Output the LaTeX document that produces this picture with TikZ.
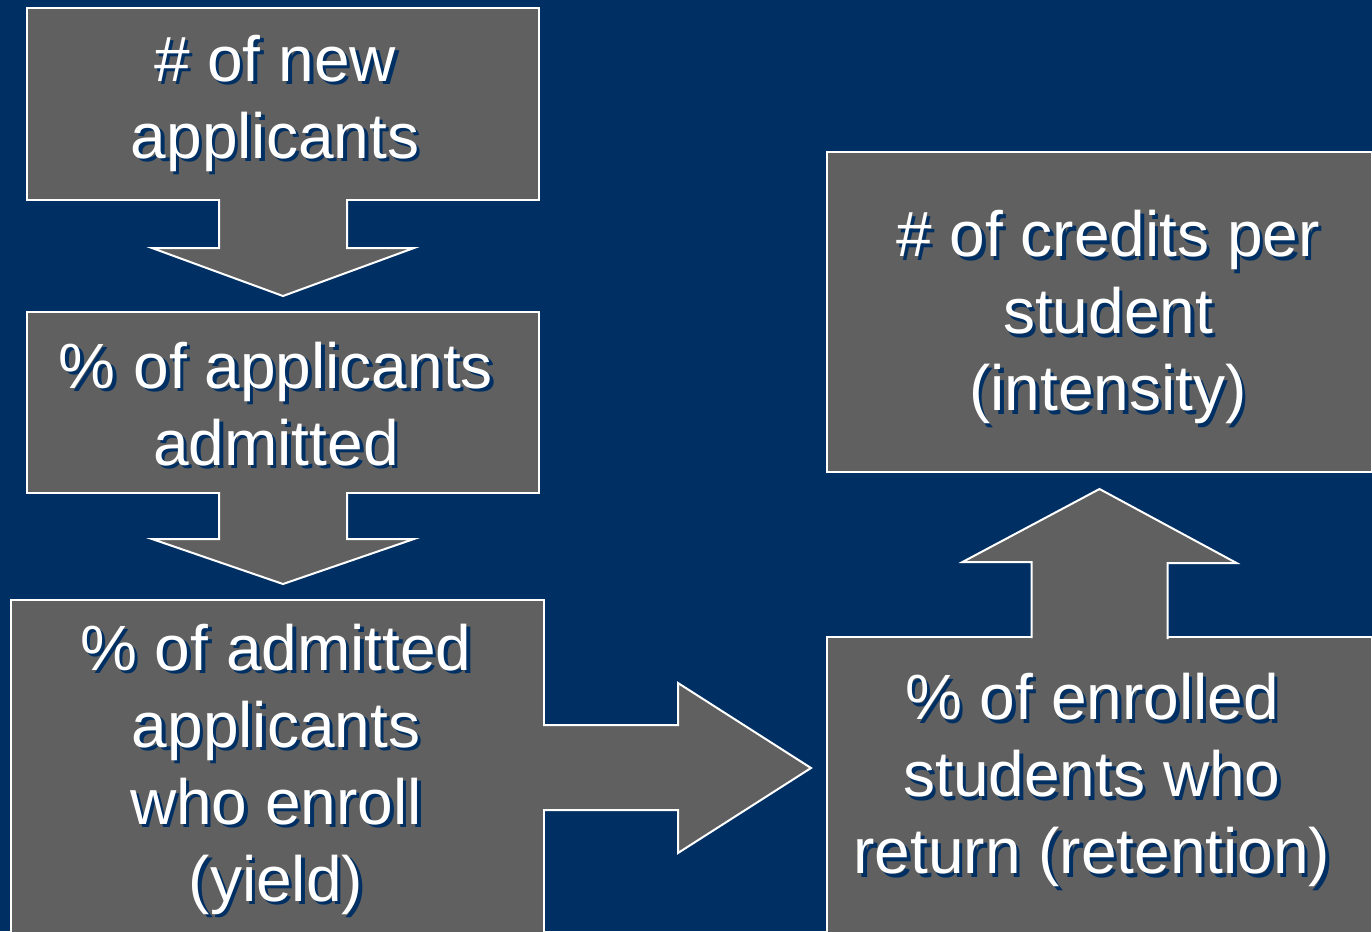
\documentclass[tikz,border=0pt]{standalone}
\usepackage{fontspec}
\setmainfont{Liberation Sans}
\usetikzlibrary{calc}
\definecolor{navy}{RGB}{0,48,99}
\definecolor{boxgray}{RGB}{96,96,96}
\tikzset{
  box/.style={draw=white, line width=2pt, fill=boxgray, inner sep=0pt, outer sep=0pt, anchor=north west},
  blockarrow/.style={draw=white, line width=2pt, fill=boxgray, line join=miter},
  txt/.style={font=\fontsize{64}{77}\selectfont, align=center, inner sep=0pt},
}
\newcommand{\stxt}[3]{%
  \node[txt, text=navy] (#1s) at ($(#2)+(3.5,3.5)$) {#3};
  \node[txt, text=white] (#1) at (#2) {#3};}
\begin{document}
\begin{tikzpicture}[x=1pt,y=-1pt]
\useasboundingbox (0,0) rectangle (1372,931);
\clip (0,0) rectangle (1372,931);
\fill[navy] (0,0) rectangle (1372,931);
% boxes
\node[box, minimum width=512pt, minimum height=192pt] (b1) at (27,8) {};
\node[box, minimum width=512pt, minimum height=181pt] (b2) at (27,312) {};
\node[box, minimum width=533pt, minimum height=340pt] (b3) at (11,600) {};
\node[box, minimum width=545pt, minimum height=320pt] (b5) at (827,152) {};
\node[box, minimum width=545pt, minimum height=310pt] (b4) at (827,637) {};
% block arrows
\draw[blockarrow] ($(b1.south)+(-64,-1)$) -- ++(0,49) -- ++(-67,0) -- ($(b1.south)+(0,96)$) -- ++(131,-48) -- ++(-67,0) -- ++(0,-49);
\draw[blockarrow] ($(b2.south)+(-64,-1)$) -- ++(0,47) -- ++(-67,0) -- ($(b2.south)+(0,91)$) -- ++(131,-45) -- ++(-67,0) -- ++(0,-47);
\draw[blockarrow] ($(b3.north east)+(-1,125)$) -- ++(135,0) -- ++(0,-42) -- ++(133,85) -- ++(-133,85) -- ++(0,-43) -- ++(-135,0);
\draw[blockarrow] ($(b4.north)+(-68,1)$) -- ++(0,-76) -- ++(-69,0) -- ($(b4.north)+(0,-148)$) -- ++(137,74) -- ++(-69,0) -- ++(0,76);
% texts
\stxt{t1}{275,103}{\# of new\\applicants}
\stxt{t2}{276,404}{\% of applicants\\admitted}
\stxt{t3}{276,769}{\% of admitted\\applicants\\who enroll\\(yield)}
\stxt{t4}{1092,780}{\% of enrolled\\students who\\return (retention)}
\stxt{t5}{1108,317}{\# of credits per\\student\\(intensity)}
\end{tikzpicture}
\end{document}
